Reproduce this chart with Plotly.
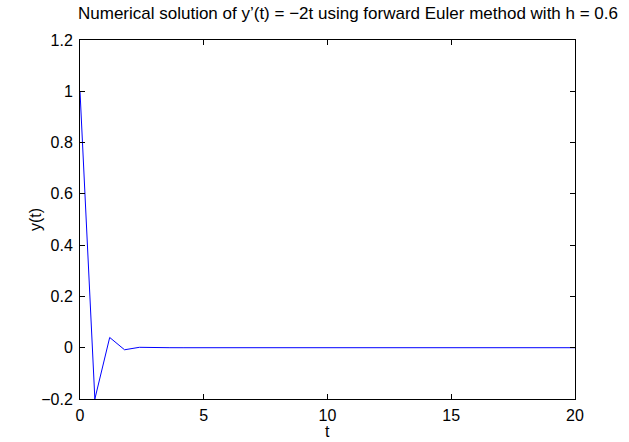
import plotly.graph_objects as go

t_values = [0.0, 0.6, 1.2, 1.8, 2.4, 3.0, 3.6, 4.2, 4.8, 5.4, 6.0, 6.6, 7.2, 7.8,
            8.4, 9.0, 9.6, 10.2, 10.8, 11.4, 12.0, 12.6, 13.2, 13.8, 14.4, 15.0,
            15.6, 16.2, 16.8, 17.4, 18.0, 18.6, 19.2, 19.8, 20.0]
y_values = [1.0, -0.2, 0.04, -0.008, 0.0016, -0.00032, 0.000064, -0.0000128,
            0.0000026, -0.0000005, 0.0000001, 0.0, 0.0, 0.0, 0.0, 0.0, 0.0, 0.0,
            0.0, 0.0, 0.0, 0.0, 0.0, 0.0, 0.0, 0.0, 0.0, 0.0, 0.0, 0.0, 0.0, 0.0,
            0.0, 0.0, 0.0]
x_ticks = [0, 5, 10, 15, 20]
y_ticks = [-0.2, 0, 0.2, 0.4, 0.6, 0.8, 1, 1.2]
y_tick_labels = ["\u22120.2", "0", "0.2", "0.4", "0.6", "0.8", "1", "1.2"]

title_text = "Numerical solution of y\u2019(t) = \u22122t using forward Euler method with h = 0.6"

W, H = 629, 442
L, R, T, B = 80, 54, 40, 43
plot_h = H - T - B
plot_w = W - L - R

fig = go.Figure()
fig.add_trace(go.Scatter(x=t_values, y=y_values, mode="lines",
                         line=dict(color="#0000ff", width=1), showlegend=False))

font = dict(family="Liberation Sans, Arial, sans-serif", size=17, color="black")
fig.update_layout(
    width=W, height=H,
    margin=dict(l=L, r=R, t=T, b=B),
    paper_bgcolor="white", plot_bgcolor="white",
    font=font,
    title=dict(text=title_text, x=348 / W, xref="container", xanchor="center",
               y=1 - 13 / H, yref="container", yanchor="middle",
               font=dict(size=17)),
    annotations=[
        dict(text="t", xref="paper", yref="paper", x=0.5,
             y=-(442 - (H - B)) / plot_h, xanchor="center", yanchor="bottom",
             showarrow=False, font=dict(size=16)),
        dict(text="y(t)", xref="paper", yref="paper", x=-(L - 35) / plot_w,
             y=(H - B - 220) / plot_h, xanchor="center", yanchor="middle",
             textangle=-90, showarrow=False, font=dict(size=16)),
    ],
)
fig.update_xaxes(range=[0, 20], tickvals=x_ticks, ticks="inside", ticklen=5,
                 tickcolor="black", showline=True, linecolor="black", linewidth=1,
                 mirror="ticks", showgrid=False, zeroline=False,
                 ticklabelstandoff=2, tickfont=dict(size=16))
fig.update_yaxes(range=[-0.2, 1.2], tickvals=y_ticks, ticktext=y_tick_labels,
                 ticks="inside", ticklen=5, tickcolor="black", showline=True,
                 linecolor="black", linewidth=1, mirror="ticks", showgrid=False,
                 zeroline=False, ticklabelstandoff=3, tickfont=dict(size=16))

fig.write_html("out.html")
